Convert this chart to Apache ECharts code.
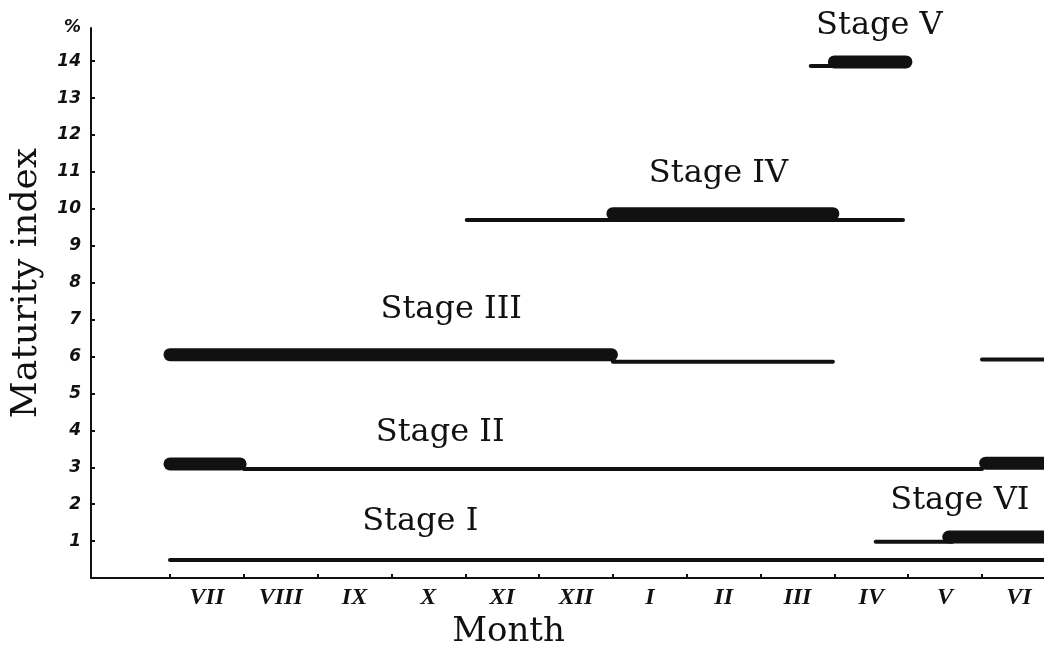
<!DOCTYPE html>
<html>
<head>
<meta charset="utf-8">
<script src="https://cdn.jsdelivr.net/npm/echarts@6/dist/echarts.min.js"></script>
<style>
html,body{margin:0;padding:0;background:#fff;}
#chart{width:1044px;height:658px;}
</style>
</head>
<body>
<div id="chart"></div>
<script>
// Months (x categories), July = 0
const months = ['VII','VIII','IX','X','XI','XII','I','II','III','IV','V','VI'];
const yTickValues = [1,2,3,4,5,6,7,8,9,10,11,12,13,14];
const stageNames = ['Stage I','Stage II','Stage III','Stage IV','Stage V','Stage VI'];
// label anchor of each stage name, in data units [month, index]
const stageLabelAt = [[3.39,1.52],[3.66,3.95],[3.81,7.27],[7.43,10.94],[9.61,14.95],[10.7,2.1]];
// thin segments: [stage, fromMonth, toMonth, index]
const thinBars = [
  [0, 0.0, 11.84, 0.49],
  [1, 1.0, 11.0, 2.95],
  [2, 6.0, 8.98, 5.86],
  [2, 11.0, 11.84, 5.92],
  [3, 4.02, 9.93, 9.70],
  [4, 8.68, 9.1, 13.87],
  [5, 9.56, 10.6, 0.98]
];
// thick segments: [stage, fromMonth, toMonth, index]
const thickBars = [
  [1, 0.0, 0.95, 3.09],
  [1, 11.05, 11.84, 3.11],
  [2, 0.0, 5.98, 6.05],
  [3, 6.0, 8.98, 9.87],
  [4, 9.0, 9.97, 13.98],
  [5, 10.55, 11.84, 1.11]
];

const INK = '#111';
const series = [];
thinBars.forEach(function (b) {
  series.push({
    type: 'line', silent: true, showSymbol: false, clip: false,
    data: [[b[1], b[3]], [b[2], b[3]]],
    lineStyle: { color: INK, width: 4, cap: 'round' }
  });
});
thickBars.forEach(function (b) {
  series.push({
    type: 'line', silent: true, showSymbol: false, clip: false,
    data: [[b[1], b[3]], [b[2], b[3]]],
    lineStyle: { color: INK, width: 13, cap: 'round' }
  });
});
series.push({
  type: 'scatter', silent: true, clip: false, symbolSize: 0,
  itemStyle: { opacity: 1 },
  data: stageLabelAt.map(function (p, i) { return { value: p, name: stageNames[i] }; }),
  label: {
    show: true, position: 'inside', formatter: '{b}', opacity: 1,
    fontFamily: 'DejaVu Serif', fontSize: 32, color: INK
  }
});

const chart = echarts.init(document.getElementById('chart'), null, { renderer: 'canvas' });
chart.setOption({
  backgroundColor: '#fff',
  animation: false,
  grid: { left: 91, right: 0, top: 28, bottom: 80 },
  xAxis: {
    type: 'value', min: -1.07, max: 11.84,
    name: 'Month', nameLocation: 'middle', nameGap: 20,
    nameTextStyle: { fontFamily: 'DejaVu Serif', fontSize: 34, color: INK, padding: [0, 118, 0, 0] },
    axisLine: { show: true, onZero: false, lineStyle: { color: INK, width: 2 } },
    axisTick: { show: true, inside: true, length: 4, customValues: months.map(function (m, i) { return i; }), lineStyle: { color: INK, width: 2 } },
    axisLabel: {
      customValues: months.map(function (m, i) { return i + 0.5; }),
      formatter: function (v) { return months[Math.floor(v)]; },
      fontFamily: 'Liberation Serif', fontStyle: 'italic', fontWeight: 'bold', fontSize: 24, color: INK, margin: 8
    },
    splitLine: { show: false }
  },
  yAxis: {
    type: 'value', min: 0, max: 14.9,
    name: 'Maturity index', nameLocation: 'middle', nameGap: 46,
    nameTextStyle: { fontFamily: 'DejaVu Serif', fontSize: 36, color: INK, padding: [0, 0, 0, 40] },
    axisLine: { show: true, onZero: false, lineStyle: { color: INK, width: 2 } },
    axisTick: { show: true, inside: true, length: 4, customValues: yTickValues, lineStyle: { color: INK, width: 2 } },
    axisLabel: {
      customValues: yTickValues.concat([14.9]),
      formatter: function (v) { return v > 14 ? '%' : String(v); },
      fontFamily: 'DejaVu Sans', fontStyle: 'italic', fontWeight: 'bold', fontSize: 17, color: INK, margin: 10
    },
    splitLine: { show: false }
  },
  series: series
});
</script>
</body>
</html>
